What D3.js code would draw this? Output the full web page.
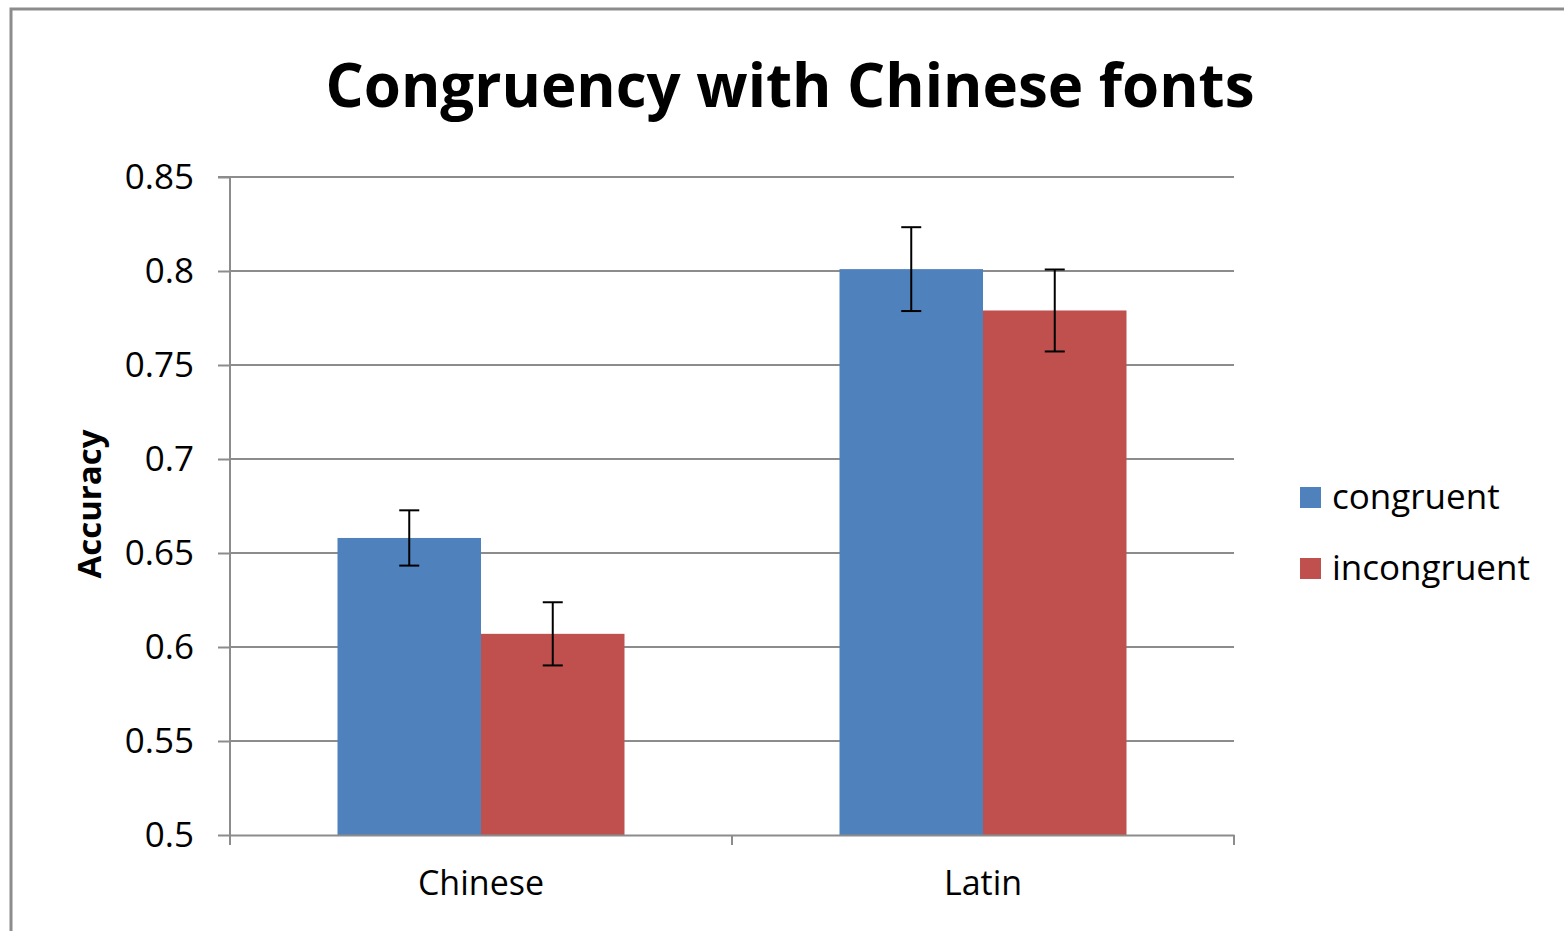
<!DOCTYPE html>
<html>
<head>
<meta charset="utf-8">
<script src="https://cdn.jsdelivr.net/npm/d3@7"></script>
<style>
  body { margin: 0; background: #ffffff; }
  text { font-family: "Open Sans", sans-serif; fill: #000; }
</style>
</head>
<body>
<div id="chart"></div>
<script>
// Chart data
const categories = ["Chinese", "Latin"];
const seriesNames = ["congruent", "incongruent"];
const congruent = [0.658, 0.801];
const incongruent = [0.607, 0.779];
const congruentErr = [0.0147, 0.0223];
const incongruentErr = [0.0168, 0.0218];
const yTicks = [0.5, 0.55, 0.6, 0.65, 0.7, 0.75, 0.8, 0.85];

const W = 1564, H = 931;
const colors = ["#4F81BD", "#C0504D"];
const margin = { top: 177, left: 230, right: 330, bottom: 96 };
const innerW = W - margin.left - margin.right;
const innerH = H - margin.top - margin.bottom;

const svg = d3.select("#chart").append("svg")
    .attr("width", W)
    .attr("height", H);

// outer chart border
svg.append("rect")
    .attr("x", 11).attr("y", 9)
    .attr("width", W + 10).attr("height", H + 10)
    .attr("fill", "#fff")
    .attr("stroke", "#8c8c8c")
    .attr("stroke-width", 3);

const g = svg.append("g")
    .attr("transform", `translate(${margin.left},${margin.top})`);

// scales
const x0 = d3.scaleBand().domain(categories).range([0, innerW]).paddingInner(0).paddingOuter(0);
const x1 = d3.scaleBand().domain(seriesNames).range([107.5, x0.bandwidth() - 107.5]);
const y = d3.scaleLinear().domain([0.5, 0.85]).range([innerH, 0]);

// gridlines
g.selectAll(".grid")
    .data(yTicks.slice(1))
    .enter().append("line")
    .attr("x1", 0).attr("x2", innerW)
    .attr("y1", d => y(d)).attr("y2", d => y(d))
    .attr("stroke", "#8c8c8c")
    .attr("stroke-width", 2);

// bars
const rows = categories.map((c, i) => ({
    cat: c,
    vals: [
        { s: seriesNames[0], v: congruent[i], e: congruentErr[i] },
        { s: seriesNames[1], v: incongruent[i], e: incongruentErr[i] }
    ]
}));

const groups = g.selectAll(".cat")
    .data(rows)
    .enter().append("g")
    .attr("transform", d => `translate(${x0(d.cat)},0)`);

groups.selectAll("rect")
    .data(d => d.vals)
    .enter().append("rect")
    .attr("x", d => x1(d.s))
    .attr("y", d => y(d.v))
    .attr("width", x1.bandwidth())
    .attr("height", d => innerH - y(d.v))
    .attr("fill", (d, i) => colors[i]);

// error bars
const cap = 10;
const eb = groups.selectAll(".err")
    .data(d => d.vals)
    .enter().append("g")
    .attr("stroke", "#000")
    .attr("stroke-width", 2);
eb.append("line")
    .attr("x1", d => x1(d.s) + x1.bandwidth() / 2)
    .attr("x2", d => x1(d.s) + x1.bandwidth() / 2)
    .attr("y1", d => y(d.v + d.e))
    .attr("y2", d => y(d.v - d.e));
eb.append("line")
    .attr("x1", d => x1(d.s) + x1.bandwidth() / 2 - cap)
    .attr("x2", d => x1(d.s) + x1.bandwidth() / 2 + cap)
    .attr("y1", d => y(d.v + d.e))
    .attr("y2", d => y(d.v + d.e));
eb.append("line")
    .attr("x1", d => x1(d.s) + x1.bandwidth() / 2 - cap)
    .attr("x2", d => x1(d.s) + x1.bandwidth() / 2 + cap)
    .attr("y1", d => y(d.v - d.e))
    .attr("y2", d => y(d.v - d.e));

// y axis
const yAxis = g.append("g")
    .call(d3.axisLeft(y).tickValues(yTicks).tickSize(12).tickPadding(24).tickFormat(d => String(+d.toFixed(2))));
yAxis.select(".domain").attr("stroke", "#8c8c8c").attr("stroke-width", 2).attr("d", `M-12,0H0V${innerH + 8}`);
yAxis.selectAll(".tick line").attr("stroke", "#8c8c8c").attr("stroke-width", 2);
yAxis.selectAll("text").attr("font-size", 35).attr("font-family", "Open Sans, sans-serif").attr("fill", "#000");

// x axis
const xAxis = g.append("g")
    .attr("transform", `translate(0,${innerH})`)
    .call(d3.axisBottom(x0).tickSize(0).tickPadding(36));
xAxis.select(".domain").attr("stroke", "#8c8c8c").attr("stroke-width", 2);
xAxis.selectAll("text").attr("font-size", 34).attr("font-family", "Open Sans, sans-serif").attr("fill", "#000");
g.append("g").selectAll("line")
    .data([0, innerW / 2, innerW])
    .enter().append("line")
    .attr("x1", d => d).attr("x2", d => d)
    .attr("y1", innerH).attr("y2", innerH + 10)
    .attr("stroke", "#8c8c8c").attr("stroke-width", 2);

// title
svg.append("text")
    .attr("x", 790).attr("y", 107)
    .attr("text-anchor", "middle")
    .attr("font-size", 60)
    .attr("font-weight", "bold")
    .text("Congruency with Chinese fonts");

// y axis title
svg.append("text")
    .attr("transform", "translate(101,504) rotate(-90)")
    .attr("text-anchor", "middle")
    .attr("font-size", 33)
    .attr("font-weight", "bold")
    .text("Accuracy");

// legend
const legend = svg.append("g").attr("transform", "translate(1300,487)");
const li = legend.selectAll("g")
    .data(seriesNames)
    .enter().append("g")
    .attr("transform", (d, i) => `translate(0,${i * 71})`);
li.append("rect").attr("width", 21).attr("height", 21).attr("fill", (d, i) => colors[i]);
li.append("text").attr("x", 32).attr("y", 22).attr("font-size", 35).text(d => d);
</script>
</body>
</html>
